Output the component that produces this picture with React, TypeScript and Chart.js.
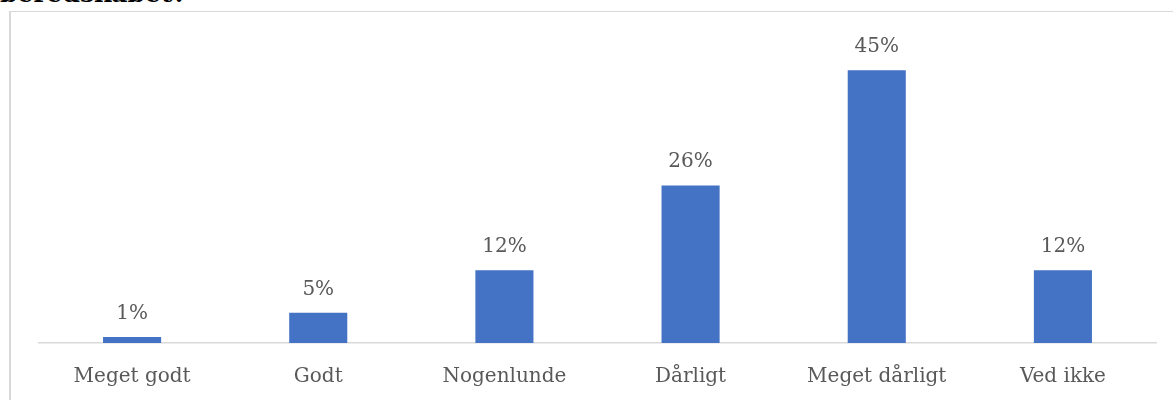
import React, { useEffect, useRef } from "react";
import { Chart, registerables } from "chart.js";

Chart.register(...registerables);

const categories = ["Meget godt", "Godt", "Nogenlunde", "Dårligt", "Meget dårligt", "Ved ikke"];
const values = [1, 5, 12, 26, 45, 12];
const valueLabels = ["1%", "5%", "12%", "26%", "45%", "12%"];

const FONT = "'DejaVu Serif', 'Liberation Serif', serif";

const dataLabelPlugin = {
  id: "dataLabels",
  afterDatasetsDraw(chart: any) {
    const ctx = chart.ctx;
    const meta = chart.getDatasetMeta(0);
    ctx.save();
    ctx.fillStyle = "#595959";
    ctx.font = `20px ${FONT}`;
    ctx.textAlign = "center";
    ctx.textBaseline = "alphabetic";
    meta.data.forEach((bar: any, i: number) => {
      ctx.fillText(valueLabels[i], bar.x, bar.y - 18);
    });
    ctx.restore();
  },
};

export default function App() {
  const ref = useRef<HTMLCanvasElement | null>(null);
  useEffect(() => {
    if (!ref.current) return;
    const chart = new Chart(ref.current, {
      type: "bar",
      data: {
        labels: categories,
        datasets: [
          {
            data: values,
            backgroundColor: "#4472C4",
            barPercentage: 1,
            categoryPercentage: 0.312,
          },
        ],
      },
      options: {
        responsive: false,
        animation: false,
        layout: { padding: { left: 39, right: 17, top: 40, bottom: -11 } },
        plugins: { legend: { display: false }, tooltip: { enabled: false } },
        scales: {
          x: {
            grid: { display: false, drawTicks: false, tickLength: 0 },
            border: { display: true, color: "#d9d9d9", width: 1.5 },
            ticks: {
              color: "#595959",
              font: { family: FONT, size: 20, lineHeight: 1.2 },
              padding: 22,
              maxRotation: 0,
              autoSkip: false,
            },
          },
          y: { display: false, min: 0, max: 50 },
        },
      },
      plugins: [dataLabelPlugin],
    });
    return () => chart.destroy();
  }, []);

  return (
    <div style={{ position: "absolute", left: 0, top: 0, width: 1173, height: 400, overflow: "hidden", background: "#fff" }}>
      <div
        style={{
          position: "absolute",
          left: 0,
          top: -20,
          fontFamily: "'DejaVu Serif', serif",
          fontWeight: "bold",
          fontSize: 25,
          lineHeight: "28px",
          color: "#000",
          whiteSpace: "nowrap",
        }}
      >
        beredskabet?
      </div>
      <div
        style={{
          position: "absolute",
          left: 9,
          top: 11,
          width: 1200,
          height: 420,
          borderLeft: "2px solid #d9d9d9",
          borderTop: "1.5px solid #d9d9d9",
        }}
      />
      <canvas ref={ref} width={1173} height={400} style={{ position: "absolute", left: 0, top: 0 }} />
    </div>
  );
}
